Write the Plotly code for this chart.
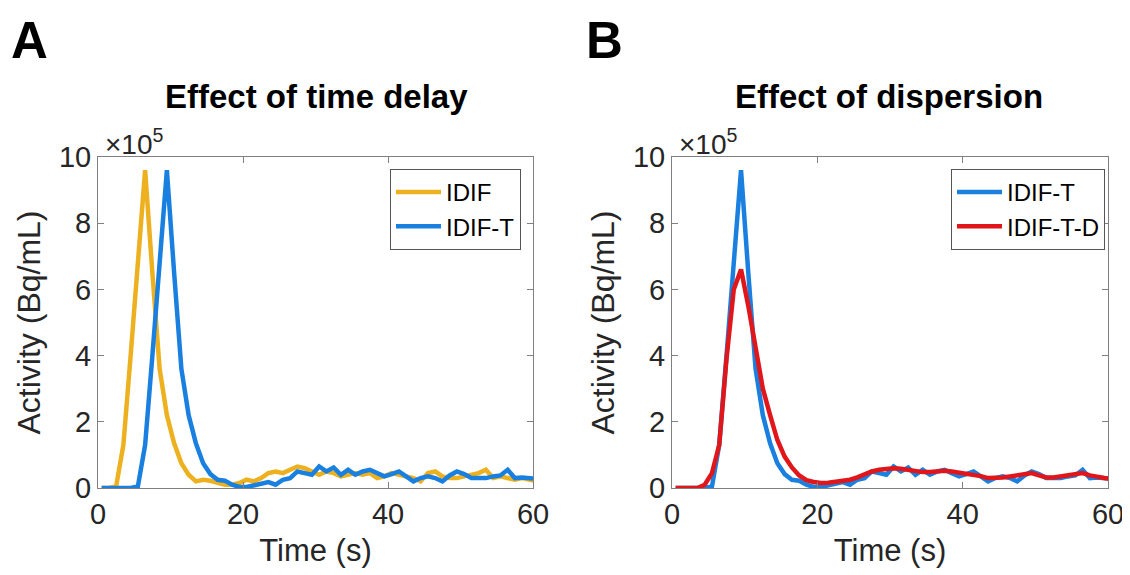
import plotly.graph_objects as go

# time points (s)
time_s = [0.5 + i for i in range(61)]

# activity values in units of 1e5 Bq/mL
idif = [0, 0, 0.05, 1.3, 4.0, 7.0, 9.6, 6.5, 3.6, 2.2,
        1.35, 0.75, 0.4, 0.2, 0.25, 0.22, 0.15, 0.1, 0.1, 0.15,
        0.25, 0.2, 0.3, 0.45, 0.5, 0.45, 0.55, 0.65, 0.6, 0.5,
        0.4, 0.5, 0.45, 0.35, 0.4, 0.45, 0.4, 0.45, 0.3, 0.35,
        0.45, 0.4, 0.35, 0.3, 0.2, 0.45, 0.5, 0.35, 0.3, 0.3,
        0.35, 0.4, 0.45, 0.55, 0.3, 0.35, 0.3, 0.25, 0.3, 0.25, 0.2]

idif_t = [0, 0, 0, 0, 0, 0.05, 1.3, 4.0, 7.0, 9.6,
          6.5, 3.6, 2.2, 1.35, 0.75, 0.42, 0.25, 0.22, 0.1, 0.03,
          0.03, 0.08, 0.15, 0.18, 0.1, 0.25, 0.3, 0.5, 0.45, 0.4,
          0.65, 0.5, 0.62, 0.4, 0.55, 0.4, 0.5, 0.55, 0.45, 0.35,
          0.42, 0.5, 0.35, 0.2, 0.3, 0.35, 0.3, 0.2, 0.38, 0.5,
          0.42, 0.3, 0.3, 0.3, 0.35, 0.38, 0.55, 0.3, 0.32, 0.3, 0.28]

idif_t_d = [0, 0, 0, 0, 0.1, 0.45, 1.3, 3.9, 6.0, 6.6,
            5.5, 4.2, 3.0, 2.2, 1.45, 0.95, 0.62, 0.38, 0.24, 0.18,
            0.15, 0.16, 0.18, 0.2, 0.25, 0.32, 0.42, 0.5, 0.55, 0.58,
            0.6, 0.58, 0.54, 0.5, 0.48, 0.48, 0.5, 0.52, 0.5, 0.47,
            0.45, 0.42, 0.36, 0.3, 0.3, 0.32, 0.35, 0.38, 0.43, 0.45,
            0.38, 0.32, 0.32, 0.35, 0.4, 0.44, 0.45, 0.38, 0.33, 0.3, 0.28]

x_ticks = [0, 20, 40, 60]
y_ticks = [0, 2, 4, 6, 8, 10]

C_YEL = "#EDB120"
C_BLU = "#1A80E0"
C_RED = "#E0161B"
FONT = "Liberation Sans, Arial, sans-serif"
AX = "#808080"
TXT = "#262626"
LW = 4.5

fig = go.Figure()
fig.add_trace(go.Scatter(x=time_s, y=idif, mode="lines", name="IDIF",
                         line=dict(color=C_YEL, width=LW), xaxis="x", yaxis="y", legend="legend"))
fig.add_trace(go.Scatter(x=time_s, y=idif_t, mode="lines", name="IDIF-T",
                         line=dict(color=C_BLU, width=LW), xaxis="x", yaxis="y", legend="legend"))
fig.add_trace(go.Scatter(x=time_s, y=idif_t, mode="lines", name="IDIF-T",
                         line=dict(color=C_BLU, width=LW), xaxis="x2", yaxis="y2", legend="legend2"))
fig.add_trace(go.Scatter(x=time_s, y=idif_t_d, mode="lines", name="IDIF-T-D",
                         line=dict(color=C_RED, width=LW), xaxis="x2", yaxis="y2", legend="legend2"))

# page body adds an 8px offset; figure sized to fit the 1130x575 window
OFF = 8
W, H = 1130 - OFF, 575 - OFF

def px(x):
    return (x - OFF) / W

def py(y):
    return 1 - (y - OFF) / H

dA = [px(98), px(533)]
dB = [px(672), px(1108)]
dY = [py(488), py(157)]

def xax(domain, anchor):
    return dict(domain=domain, anchor=anchor, range=[0, 60], tickvals=x_ticks,
                ticks="inside", ticklen=6, tickcolor=AX, showline=True, linecolor=AX,
                linewidth=1, mirror="ticks", showgrid=False, zeroline=False, automargin=False,
                tickfont=dict(size=29, color=TXT, family=FONT),
                title=dict(text="Time (s)", font=dict(size=31, color=TXT, family=FONT), standoff=10))

def yax(domain, anchor):
    return dict(domain=domain, anchor=anchor, range=[0, 10], tickvals=y_ticks,
                ticks="inside", ticklen=6, tickcolor=AX, showline=True, linecolor=AX,
                linewidth=1, mirror="ticks", showgrid=False, zeroline=False, automargin=False,
                tickfont=dict(size=29, color=TXT, family=FONT),
                title=dict(text="Activity (Bq/mL)", font=dict(size=32, color=TXT, family=FONT), standoff=8))

leg_common = dict(bgcolor="white", bordercolor="#555555", borderwidth=1,
                  font=dict(size=24, color="black", family=FONT), itemwidth=45,
                  xanchor="right", yanchor="top", tracegroupgap=0)

fig.update_layout(
    width=W, height=H,
    margin=dict(l=0, r=0, t=0, b=0, autoexpand=False),
    paper_bgcolor="white", plot_bgcolor="white",
    xaxis=xax(dA, "y"), yaxis=yax(dY, "x"),
    xaxis2=xax(dB, "y2"), yaxis2=yax(dY, "x2"),
    legend=dict(x=px(521), y=py(169), **leg_common),
    legend2=dict(x=px(1105), y=py(169), **leg_common),
    annotations=[
        dict(text="<b>A</b>", x=px(29), y=py(40), xref="paper", yref="paper",
             xanchor="center", yanchor="middle", showarrow=False,
             font=dict(size=51, color="black", family=FONT)),
        dict(text="<b>B</b>", x=px(604), y=py(40), xref="paper", yref="paper",
             xanchor="center", yanchor="middle", showarrow=False,
             font=dict(size=51, color="black", family=FONT)),
        dict(text="<b>Effect of time delay</b>", x=px(316), y=py(97), xref="paper", yref="paper",
             xanchor="center", yanchor="middle", showarrow=False,
             font=dict(size=33, color="black", family=FONT)),
        dict(text="<b>Effect of dispersion</b>", x=px(889), y=py(97), xref="paper", yref="paper",
             xanchor="center", yanchor="middle", showarrow=False,
             font=dict(size=33, color="black", family=FONT)),
        dict(text="×10<sup>5</sup>", x=px(134), y=py(142), xref="paper", yref="paper",
             xanchor="center", yanchor="middle", showarrow=False,
             font=dict(size=28, color=TXT, family=FONT)),
        dict(text="×10<sup>5</sup>", x=px(708), y=py(142), xref="paper", yref="paper",
             xanchor="center", yanchor="middle", showarrow=False,
             font=dict(size=28, color=TXT, family=FONT)),
    ],
)

fig.write_html("out.html")
